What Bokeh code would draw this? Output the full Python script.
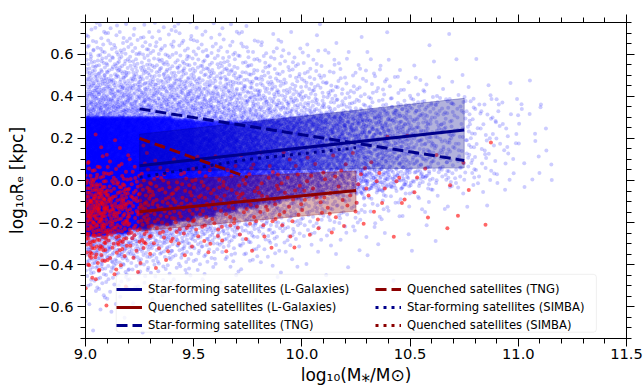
import math
from statistics import NormalDist
from bokeh.plotting import figure
from bokeh.models import (Range1d, LinearAxis, FixedTicker, Legend, LegendItem,
                          BoxAnnotation)
from bokeh.embed import file_html
from bokeh.resources import INLINE

# ---------------- data ----------------
# Star-forming cloud per 0.1-dex stellar-mass bin: a dense core filling
# [core_bottom, core_top] and a faint halo around the halo median.
sf_bin_lo = [9.0, 9.1, 9.2, 9.3, 9.4, 9.5, 9.6, 9.7, 9.8, 9.9, 10.0,
             10.1, 10.2, 10.3, 10.4, 10.5, 10.6, 10.7, 10.8, 10.9, 11.0, 11.1]
sf_core_count = [3000, 2800, 2600, 2200, 1800, 1400, 1100, 850, 650, 500, 380,
                 290, 215, 160, 115, 80, 55, 36, 22, 13, 7, 3]
sf_core_bottom = [-0.26, -0.25, -0.23, -0.21, -0.19, -0.17, -0.15, -0.13, -0.11, -0.09, -0.08,
                  -0.07, -0.06, -0.05, -0.04, -0.03, -0.02, -0.02, -0.02, -0.02, -0.02, -0.02]
sf_core_top = [0.30, 0.30, 0.30, 0.30, 0.29, 0.28, 0.28, 0.28, 0.29, 0.30, 0.31,
               0.32, 0.33, 0.34, 0.36, 0.38, 0.40, 0.40, 0.40, 0.40, 0.40, 0.40]
sf_halo_count = [1300, 1150, 1000, 900, 850, 760, 650, 550, 460, 380, 305,
                 240, 185, 140, 105, 75, 52, 34, 20, 11, 6, 3]
sf_halo_median = [0.03, 0.04, 0.05, 0.06, 0.07, 0.08, 0.09, 0.10, 0.11, 0.12, 0.13,
                  0.14, 0.15, 0.16, 0.17, 0.18, 0.19, 0.20, 0.21, 0.22, 0.23, 0.24]
sf_halo_lo = [0.22, 0.22, 0.21, 0.21, 0.21, 0.20, 0.20, 0.20, 0.20, 0.20, 0.19,
              0.19, 0.19, 0.19, 0.19, 0.18, 0.18, 0.18, 0.18, 0.18, 0.18, 0.18]
sf_halo_hi = [0.28, 0.28, 0.28, 0.27, 0.27, 0.26, 0.26, 0.25, 0.24, 0.23, 0.22,
              0.21, 0.20, 0.19, 0.18, 0.17, 0.17, 0.17, 0.17, 0.17, 0.17, 0.17]

# Quenched cloud per bin: points, median, lower / upper spread
q_bin_lo = [9.0, 9.1, 9.2, 9.3, 9.4, 9.5, 9.6, 9.7, 9.8, 9.9, 10.0,
            10.1, 10.2, 10.3, 10.4, 10.5, 10.6, 10.7, 10.8]
q_count = [200, 130, 85, 55, 42, 34, 29, 25, 22, 19, 16,
           13, 11, 8, 6, 4, 3, 3, 2]
q_median = [-0.15, -0.14, -0.13, -0.12, -0.11, -0.10, -0.10, -0.09, -0.08, -0.08, -0.07,
            -0.06, -0.05, -0.05, -0.05, -0.05, -0.05, -0.05, -0.05]
q_spread_lo = [0.14, 0.13, 0.13, 0.13, 0.12, 0.12, 0.12, 0.12, 0.12, 0.12, 0.12,
               0.12, 0.12, 0.12, 0.12, 0.12, 0.12, 0.13, 0.13]
q_spread_hi = [0.12, 0.12, 0.12, 0.11, 0.11, 0.11, 0.11, 0.11, 0.11, 0.11, 0.11,
               0.11, 0.11, 0.12, 0.12, 0.12, 0.12, 0.13, 0.13]

# L-Galaxies relations with their bands
lgal_sf_x = [9.25, 10.75]
lgal_sf_y = [0.07, 0.24]
lgal_sf_lo = [0.045, 0.06]
lgal_sf_hi = [0.22, 0.39]
lgal_q_x = [9.25, 10.25]
lgal_q_y = [-0.148, -0.047]
lgal_q_lo = [-0.24, -0.145]
lgal_q_hi = [0.0, 0.045]
# TNG
tng_sf_x = [9.25, 10.75]
tng_sf_y = [0.34, 0.095]
tng_q_x = [9.25, 9.75]
tng_q_y = [0.20, 0.015]
# SIMBA (the quenched SIMBA relation is not visible inside the axes)
simba_sf_x = [9.25, 9.75, 10.25]
simba_sf_y = [0.015, 0.10, 0.155]
simba_q_x = [math.nan, math.nan]
simba_q_y = [math.nan, math.nan]

x_ticks = [9.0, 9.5, 10.0, 10.5, 11.0, 11.5]
x_tick_labels = ["9.0", "9.5", "10.0", "10.5", "11.0", "11.5"]
x_minor = [9.0 + 0.1 * i for i in range(26)]
y_ticks = [-0.6, -0.4, -0.2, 0.0, 0.2, 0.4, 0.6]
y_tick_labels = ["\u22120.6", "\u22120.4", "\u22120.2", "0.0", "0.2", "0.4", "0.6"]
y_minor = [-0.75 + 0.05 * i for i in range(31)]

x_title = "log\u2081\u2080(M\u204e/M\u2299)"
y_title = "log\u2081\u2080R\u2091 [kpc]"

legend_labels = ["Star-forming satellites (L-Galaxies)", "Quenched satellites (L-Galaxies)",
                 "Star-forming satellites (TNG)", "Quenched satellites (TNG)",
                 "Star-forming satellites (SIMBA)", "Quenched satellites (SIMBA)"]

# ---------------- helpers ----------------
def halton(i, b):
    f, r = 1.0, 0.0
    while i > 0:
        f /= b
        r += f * (i % b)
        i //= b
    return r

ND = NormalDist()

def gauss_cloud(bin_lo, counts, med, s_lo, s_hi, seed):
    xs, ys = [], []
    for j, (lo, n, m, a, b) in enumerate(zip(bin_lo, counts, med, s_lo, s_hi)):
        start = seed + 977 * j
        for k in range(start, start + n):
            u = halton(k, 2)
            v = min(max(halton(k, 3), 1e-4), 1 - 1e-4)
            z = ND.inv_cdf(v)
            xs.append(lo + 0.1 * u)
            ys.append(m + z * (a if z < 0 else b))
    return xs, ys

def flat_cloud(bin_lo, counts, bottom, top, seed):
    xs, ys = [], []
    for j, (lo, n, y0, y1) in enumerate(zip(bin_lo, counts, bottom, top)):
        start = seed + 977 * j
        for k in range(start, start + n):
            xs.append(lo + 0.1 * halton(k, 2))
            ys.append(y0 + (y1 - y0) * halton(k, 3))
    return xs, ys

FONT = "DejaVu Sans"
navy = "#00008B"
dred = "#8B0000"

p = figure(width=643, height=390, output_backend="svg", toolbar_location=None,
           x_range=Range1d(9.0, 11.5), y_range=Range1d(-0.75, 0.75),
           min_border_left=85, min_border_right=17, min_border_top=22,
           min_border_bottom=52, x_axis_location=None, y_axis_location=None)
p.xgrid.visible = False
p.ygrid.visible = False
p.outline_line_color = "black"
p.outline_line_width = 1
p.background_fill_color = "white"
p.border_fill_color = "white"

def make_axis(kind, side):
    if kind == "x":
        ax = LinearAxis(ticker=FixedTicker(ticks=x_ticks, minor_ticks=x_minor))
        ax.major_label_overrides = dict(zip(x_ticks, x_tick_labels))
    else:
        ax = LinearAxis(ticker=FixedTicker(ticks=y_ticks, minor_ticks=y_minor))
        ax.major_label_overrides = dict(zip(y_ticks, y_tick_labels))
    ax.major_tick_out = 8
    ax.major_tick_in = 0
    ax.minor_tick_out = 5
    ax.minor_tick_in = 0
    ax.axis_line_color = "black"
    ax.major_tick_line_color = "black"
    ax.minor_tick_line_color = "black"
    ax.major_label_text_font = FONT
    if side in ("left", "below"):
        ax.major_label_text_color = "black"
        ax.major_label_text_font_size = "14.7px"
        ax.major_label_standoff = 4 if side == "left" else 2
        ax.axis_label = x_title if kind == "x" else y_title
        ax.axis_label_text_font = FONT
        ax.axis_label_text_font_size = "17px"
        ax.axis_label_text_font_style = "normal"
        ax.axis_label_text_color = "black"
        ax.axis_label_standoff = 3 if kind == "x" else 8
    else:
        ax.major_label_text_color = None
        ax.major_label_text_alpha = 0
        ax.major_label_text_font_size = "1px"
        ax.major_label_standoff = 0
    p.add_layout(ax, side)

make_axis("x", "below")
make_axis("x", "above")
make_axis("y", "left")
make_axis("y", "right")

# scatter clouds (star-forming: halo + core, then quenched on top)
cx, cy = flat_cloud(sf_bin_lo, sf_core_count, sf_core_bottom, sf_core_top, 11)
hx, hy = gauss_cloud(sf_bin_lo, sf_halo_count, sf_halo_median, sf_halo_lo, sf_halo_hi, 30011)
p.scatter(hx + cx, hy + cy, marker="circle", size=4, fill_color="blue", fill_alpha=0.2,
          line_color=None)
qx, qy = gauss_cloud(q_bin_lo, q_count, q_median, q_spread_lo, q_spread_hi, 5003)
p.scatter(qx, qy, marker="circle", size=4, fill_color="red", fill_alpha=0.6,
          line_color=None)

# bands
p.patch(lgal_sf_x + lgal_sf_x[::-1], lgal_sf_hi + lgal_sf_lo[::-1],
        fill_color=navy, fill_alpha=0.3, line_color=navy, line_alpha=0.3, line_width=1)
p.patch(lgal_q_x + lgal_q_x[::-1], lgal_q_hi + lgal_q_lo[::-1],
        fill_color=dred, fill_alpha=0.3, line_color=dred, line_alpha=0.3, line_width=1)

# lines
r1 = p.line(lgal_sf_x, lgal_sf_y, line_color=navy, line_width=3)
r2 = p.line(lgal_q_x, lgal_q_y, line_color=dred, line_width=3)
r3 = p.line(tng_sf_x, tng_sf_y, line_color=navy, line_width=3, line_dash="11 5")
r4 = p.line(tng_q_x, tng_q_y, line_color=dred, line_width=3, line_dash="11 5")
r5 = p.line(simba_sf_x, simba_sf_y, line_color=navy, line_width=3, line_dash="3 5")
r6 = p.line(simba_q_x, simba_q_y, line_color=dred, line_width=3, line_dash="3 5")

# legend frame
box = BoxAnnotation(left=9.142, right=11.361, top=-0.4455, bottom=-0.720,
                    fill_color="white", fill_alpha=0.8, line_color="#cccccc",
                    line_width=1, border_radius=3)
p.add_layout(box)

def make_legend(items, loc):
    lg = Legend(items=items, location=loc, orientation="vertical",
                background_fill_alpha=0, border_line_color=None,
                padding=4, spacing=4, margin=0, label_height=14, glyph_height=14,
                glyph_width=26, label_standoff=6,
                label_text_font=FONT, label_text_font_size="11.6px",
                label_text_color="black")
    p.add_layout(lg)

rs = [r1, r2, r3, r4, r5, r6]
make_legend([LegendItem(label=legend_labels[i], renderers=[rs[i]]) for i in range(3)], (31, 6))
make_legend([LegendItem(label=legend_labels[i], renderers=[rs[i]]) for i in range(3, 6)], (290, 6))

open("out.html", "w").write(file_html(p, INLINE))
